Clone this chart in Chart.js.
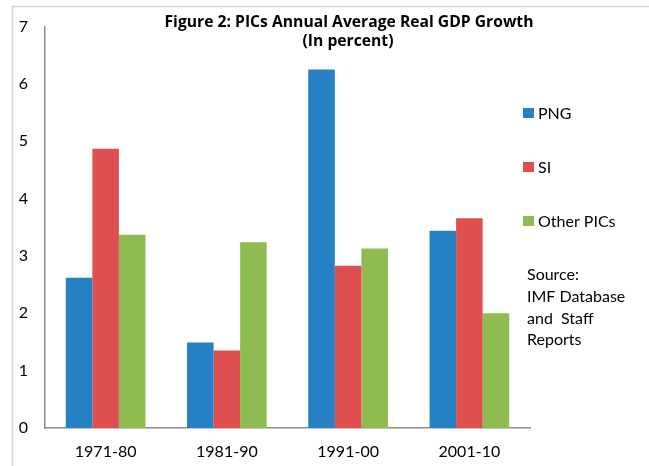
<!DOCTYPE html>
<html>
<head>
<meta charset="utf-8">
<script src="https://cdn.jsdelivr.net/npm/chart.js@4.4.1/dist/chart.umd.min.js"></script>
<style>
  html, body { margin: 0; padding: 0; background: #fff; }
  #wrap { width: 649px; height: 466px; position: relative; }
</style>
</head>
<body>
<div id="wrap"><canvas id="gdpChart" width="649" height="466"></canvas></div>
<script>
const periods = ['1971-80', '1981-90', '1991-00', '2001-10'];
const png = [2.62, 1.49, 6.25, 3.44];
const si = [4.87, 1.35, 2.83, 3.66];
const otherPics = [3.37, 3.24, 3.13, 2.0];
const seriesNames = ['PNG', 'SI', 'Other PICs'];
const seriesColors = ['#2580c4', '#df4f4f', '#8ebc50'];
const titleLines = ['Figure 2: PICs Annual Average Real GDP Growth', '(In percent)'];
const sourceLines = ['Source:', 'IMF Database', 'and  Staff', 'Reports'];

const FONT = 'Lato, "Open Sans", sans-serif';

// title, side legend, source note and the light frame
const extras = {
  id: 'extras',
  afterDraw(chart) {
    const ctx = chart.ctx;
    ctx.save();

    ctx.strokeStyle = '#d4d4d4';
    ctx.lineWidth = 1.5;
    ctx.beginPath();
    ctx.moveTo(12.5, 466);
    ctx.lineTo(12.5, 6.5);
    ctx.lineTo(649, 6.5);
    ctx.stroke();

    ctx.fillStyle = '#000';
    ctx.textAlign = 'center';
    ctx.textBaseline = 'middle';
    ctx.font = 'bold 15.7px "Open Sans", sans-serif';
    ctx.fillText(titleLines[0], 349, 23);
    ctx.fillText(titleLines[1], 348, 42);

    ctx.textAlign = 'left';
    ctx.font = '16px ' + FONT;
    const legendY = [113, 167, 221];
    seriesNames.forEach((name, i) => {
      ctx.fillStyle = seriesColors[i];
      ctx.fillRect(523, legendY[i] - 5, 11, 10);
      ctx.fillStyle = '#000';
      ctx.fillText(name, 538, legendY[i] + 1);
    });

    sourceLines.forEach((line, i) => {
      ctx.fillText(line, 527, 275 + i * 21.7);
    });
    ctx.restore();
  }
};

new Chart(document.getElementById('gdpChart'), {
  type: 'bar',
  data: {
    labels: periods,
    datasets: [png, si, otherPics].map((vals, i) => ({
      label: seriesNames[i],
      data: vals,
      backgroundColor: seriesColors[i],
      borderWidth: 0,
      categoryPercentage: 0.657,
      barPercentage: 1
    }))
  },
  options: {
    responsive: false,
    animation: false,
    layout: { padding: { top: 22, right: 119, bottom: 0, left: 0 } },
    plugins: {
      legend: { display: false },
      title: { display: false },
      tooltip: { enabled: false }
    },
    scales: {
      x: {
        grid: { display: false, drawTicks: false },
        border: { color: '#8c8c8c', width: 1.5 },
        ticks: { color: '#000', font: { family: FONT, size: 16 }, padding: 14 },
        afterFit(scale) { scale.height = 38; }
      },
      y: {
        min: 0,
        max: 7,
        grid: { display: false, drawTicks: false },
        border: { color: '#8c8c8c', width: 1.5 },
        ticks: { stepSize: 1, color: '#000', font: { family: FONT, size: 16 }, padding: 17 },
        afterFit(scale) { scale.width = 45; }
      }
    }
  },
  plugins: [extras]
});
</script>
</body>
</html>
